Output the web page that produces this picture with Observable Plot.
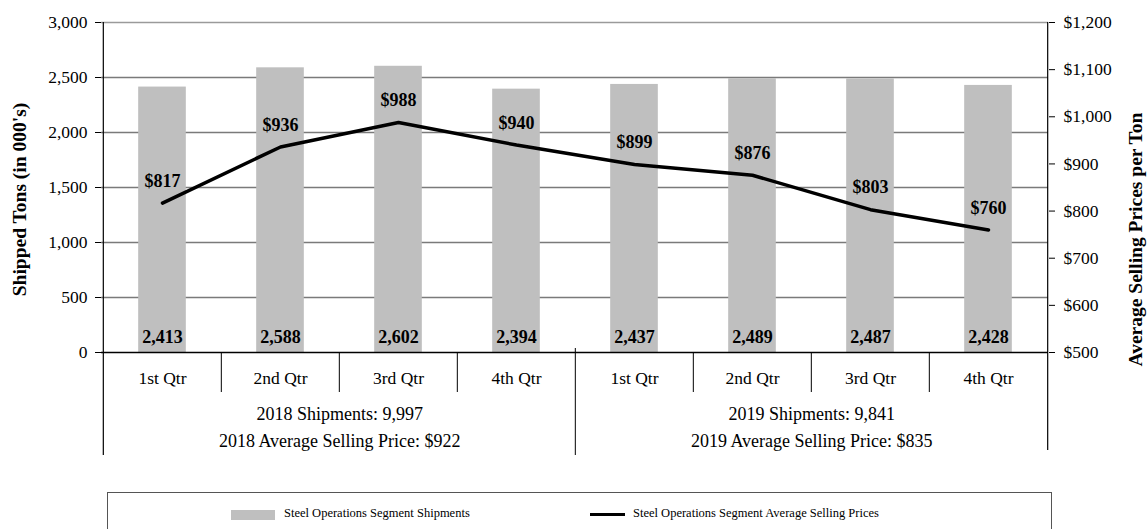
<!DOCTYPE html>
<html>
<head>
<meta charset="utf-8">
<script src="https://cdn.jsdelivr.net/npm/d3@7"></script>
<script src="https://cdn.jsdelivr.net/npm/@observablehq/plot@0.6"></script>
<style>
  body { margin: 0; background: #fff; font-family: "Liberation Serif", "Times New Roman", serif; }
  #legend { position: relative; margin-left: 107px; margin-top: 12px; width: 943px; height: 45px; border: 1px solid #555; border-bottom: none; font-size: 12.5px; color: #000; }
  #legend .sw { position: absolute; top: 17px; width: 44px; height: 10px; background: #bfbfbf; }
  #legend .ln { position: absolute; top: 20px; width: 35px; height: 3px; background: #000; }
  #legend .tx { position: absolute; top: 13px; white-space: nowrap; }
</style>
</head>
<body>
<div id="chart"></div>
<div id="legend">
  <div class="sw" style="left:123px"></div><div class="tx" style="left:176px">Steel Operations Segment Shipments</div>
  <div class="ln" style="left:482px"></div><div class="tx" style="left:525px">Steel Operations Segment Average Selling Prices</div>
</div>
<script>
// ---- data ----
const years = ["2018", "2018", "2018", "2018", "2019", "2019", "2019", "2019"];
const quarters = ["1st Qtr", "2nd Qtr", "3rd Qtr", "4th Qtr", "1st Qtr", "2nd Qtr", "3rd Qtr", "4th Qtr"];
const shipments = [2413, 2588, 2602, 2394, 2437, 2489, 2487, 2428];
const prices = [817, 936, 988, 940, 899, 876, 803, 760];
const summaryYears = ["2018", "2019"];
const yearShipments = [9997, 9841];
const yearAvgPrices = [922, 835];
const leftTicks = [0, 500, 1000, 1500, 2000, 2500, 3000];
const rightTicks = [500, 600, 700, 800, 900, 1000, 1100, 1200];

// ---- layout ----
const W = 1147, H = 480;
const mL = 101, mR = 99, mT = 22, mB = 128;
const bw = (W - mL - mR) / quarters.length;
const frameH = H - mT - mB;
const barW = 48;

const fmt = d3.format(",");
const priceMin = 500, priceMax = 1200, leftMax = 3000;
const toLeft = p => (p - priceMin) * leftMax / (priceMax - priceMin);
const fromLeft = v => v * (priceMax - priceMin) / leftMax + priceMin;

const data = quarters.map((q, i) => ({
  key: years[i] + " " + q, year: years[i], quarter: q, ship: shipments[i], price: prices[i]
}));
const keys = data.map(d => d.key);
const summary = summaryYears.map((y, i) => ({ year: y, ship: yearShipments[i], price: yearAvgPrices[i] }));

const innerSeps = keys.filter((k, i) => i % 4 !== 0);

const chart = Plot.plot({
  width: W, height: H,
  marginLeft: mL, marginRight: mR, marginTop: mT, marginBottom: mB,
  style: { fontFamily: "'Liberation Serif', 'Times New Roman', serif", fontSize: "17px", color: "#000", background: "#fff", overflow: "visible" },
  x: { type: "band", domain: keys, padding: 0, axis: null },
  y: { domain: [0, leftMax], nice: false },
  marks: [
    Plot.ruleY(leftTicks.slice(1, -1), { stroke: "#7a7a7a", strokeWidth: 1.3 }),
    Plot.ruleY(leftTicks.slice(-1), { stroke: "#9a9a9a", strokeWidth: 1.3 }),
    Plot.barY(data, { x: "key", y: "ship", fill: "#bfbfbf", insetLeft: (bw - barW) / 2, insetRight: (bw - barW) / 2 }),
    Plot.ruleY([0], { stroke: "#000", strokeWidth: 1.3 }),
    Plot.lineY(data, { x: "key", y: d => toLeft(d.price), stroke: "#000", strokeWidth: 3.5 }),
    Plot.text(data, { x: "key", y: d => toLeft(d.price), text: d => "$" + d.price, dy: -22, fontWeight: "bold", fontSize: 18 }),
    Plot.text(data, { x: "key", text: d => fmt(d.ship), frameAnchor: "bottom", dy: -10, fontWeight: "bold", fontSize: 18 }),
    // category table below axis
    Plot.text(data, { x: "key", text: "quarter", frameAnchor: "bottom", dy: 31, fontSize: 17.5 }),
    Plot.text(summary, { x: d => d.year + " 2nd Qtr", dx: bw / 2, text: d => d.year + " Shipments: " + fmt(d.ship), frameAnchor: "bottom", dy: 67, fontSize: 18 }),
    Plot.text(summary, { x: d => d.year + " 2nd Qtr", dx: bw / 2, text: d => d.year + " Average Selling Price: $" + d.price, frameAnchor: "bottom", dy: 94, fontSize: 18 }),
    Plot.ruleX(innerSeps, { dx: -bw / 2, insetTop: frameH, insetBottom: -40, stroke: "#000" }),
    Plot.ruleX([keys[4]], { dx: -bw / 2, insetTop: frameH - 4, insetBottom: -103, stroke: "#000" }),
    Plot.ruleX([keys[0]], { dx: -bw / 2, insetBottom: -103, stroke: "#000", strokeWidth: 1.2 }),
    Plot.ruleX([keys[7]], { dx: bw / 2, insetBottom: -98, stroke: "#000", strokeWidth: 1.2 }),
    // axes
    Plot.axisY(leftTicks, { anchor: "left", tickFormat: fmt, tickSize: 6, tickPadding: 8, label: null, fontSize: 17.5 }),
    Plot.axisY(rightTicks.map(toLeft), { anchor: "right", tickFormat: v => "$" + fmt(Math.round(fromLeft(v))), tickSize: 6, tickPadding: 9, label: null, fontSize: 17.5 }),
    // axis titles
    Plot.text(["Shipped Tons (in 000's)"], { frameAnchor: "left", textAnchor: "middle", text: d => d, rotate: -90, dx: -82, dy: 12, fontWeight: "bold", fontSize: 19.5 }),
    Plot.text(["Average Selling Prices per Ton"], { frameAnchor: "right", textAnchor: "middle", text: d => d, rotate: -90, dx: 87, dy: 52, fontWeight: "bold", fontSize: 19.5 })
  ]
});
document.getElementById("chart").appendChild(chart);
</script>
</body>
</html>
